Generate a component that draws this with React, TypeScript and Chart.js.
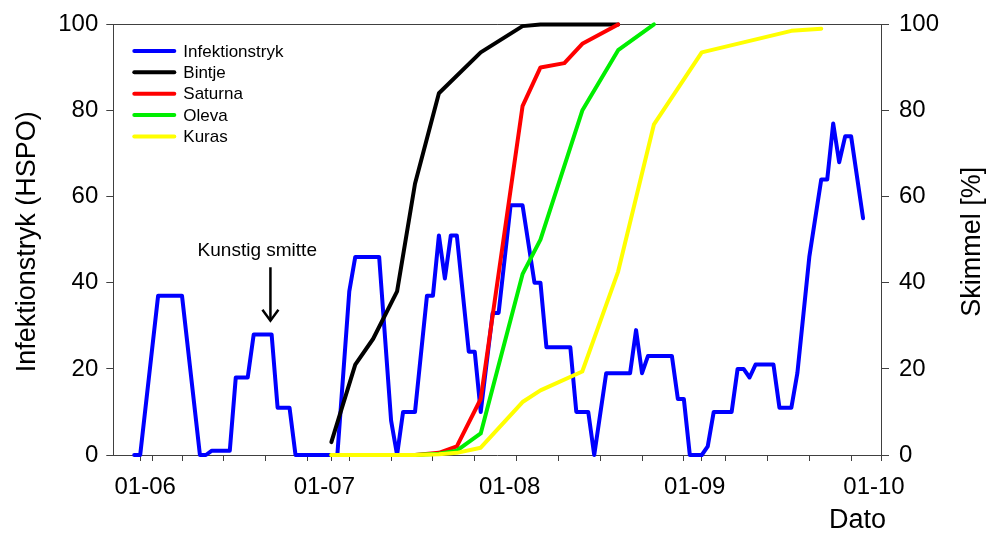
import { useEffect, useRef } from 'react';
import { Chart, registerables } from 'chart.js';

Chart.register(...registerables);

const FONT = '"Liberation Sans", Arial, Helvetica, sans-serif';

// Dates are MM-DD within one season; converted to days after 1 June.
const infDates = [
  '05-29', '05-30', '06-02', '06-06', '06-09', '06-10', '06-11', '06-14', '06-15', '06-17',
  '06-18', '06-21', '06-22', '06-24', '06-25', '07-02', '07-04', '07-05', '07-09', '07-11',
  '07-12', '07-13', '07-15', '07-17', '07-18', '07-19', '07-20', '07-21', '07-22', '07-24',
  '07-25', '07-26', '07-28', '07-29', '07-31', '08-02', '08-04', '08-05', '08-06', '08-10',
  '08-11', '08-13', '08-14', '08-16', '08-20', '08-21', '08-22', '08-23', '08-27', '08-28',
  '08-29', '08-30', '09-01', '09-02', '09-03', '09-06', '09-07', '09-08', '09-09', '09-10',
  '09-13', '09-14', '09-16', '09-17', '09-19', '09-21', '09-22', '09-23', '09-24', '09-25',
  '09-26', '09-28',
];
const infValues = [
  0, 0, 37, 37, 0, 0, 1, 1, 18, 18,
  28, 28, 11, 11, 0, 0, 38, 46, 46, 8,
  0, 10, 10, 37, 37, 51, 41, 51, 51, 24,
  24, 10, 33, 33, 58, 58, 40, 40, 25, 25,
  10, 10, 0, 19, 19, 29, 19, 23, 23, 13,
  13, 0, 0, 2, 10, 10, 20, 20, 18, 21,
  21, 11, 11, 19, 46, 64, 64, 77, 68, 74,
  74, 55,
];

const bintjeDates = ['07-01', '07-05', '07-08', '07-12', '07-15', '07-19', '07-26', '08-02', '08-05', '08-18'];
const bintjeValues = [3, 21, 27, 38, 63, 84, 93.5, 99.6, 100, 100];

const saturnaDates = ['07-01', '07-05', '07-08', '07-12', '07-15', '07-19', '07-22', '07-26', '08-02', '08-05', '08-09', '08-12', '08-18'];
const saturnaValues = [0, 0, 0, 0, 0, 0.5, 2, 13, 81, 90, 91, 95.5, 100];

const olevaDates = ['07-01', '07-05', '07-08', '07-12', '07-15', '07-19', '07-22', '07-26', '08-02', '08-05', '08-12', '08-18', '08-24'];
const olevaValues = [0, 0, 0, 0, 0, 0.3, 1, 5, 42, 50, 80, 94, 100];

const kurasDates = ['07-01', '07-05', '07-08', '07-12', '07-15', '07-19', '07-22', '07-26', '08-02', '08-05', '08-12', '08-18', '08-24', '09-01', '09-16', '09-21'];
const kurasValues = [0, 0, 0, 0, 0, 0.2, 0.5, 1.7, 12.3, 15, 19.4, 42.6, 76.8, 93.5, 98.5, 99];

const monthTickDates = ['06-01', '07-01', '08-01', '09-01', '10-01'];
const monthTickLabels = ['01-06', '01-07', '01-08', '01-09', '01-10'];
const weekTickStart = '05-30';

const seriesNames = ['Infektionstryk', 'Bintje', 'Saturna', 'Oleva', 'Kuras'];
const seriesColors = ['#0000ff', '#000000', '#ff0000', '#00ee00', '#ffff00'];

const xTitle = 'Dato';
const yTitle = 'Infektionstryk (HSPO)';
const y2Title = 'Skimmel [%]';
const noteText = 'Kunstig smitte';
const noteTextAt = { date: '06-18', frac: 0.6, value: 47.5 };
const noteArrowAt = { date: '06-20', frac: 0.8, from: 43.6, to: 31.2 };

const dayOf = (md: string) => {
  const [m, d] = md.split('-').map(Number);
  return (Date.UTC(2000, m - 1, d) - Date.UTC(2000, 5, 1)) / 86400000;
};
const toPoints = (dates: string[], values: number[]) => dates.map((d, i) => ({ x: dayOf(d), y: values[i] }));

const monthDays = monthTickDates.map(dayOf);
const weekDays: number[] = [];
for (let d = dayOf(weekTickStart); d < dayOf('10-01'); d += 7) weekDays.push(d);
const tickDays = Array.from(new Set([...weekDays, ...monthDays])).sort((a, b) => a - b);

const AXIS = '#404040';

const overlay = {
  id: 'overlay',
  beforeDatasetsDraw(chart: any) {
    const { ctx, chartArea: a } = chart;
    ctx.save();
    ctx.strokeStyle = AXIS;
    ctx.lineWidth = 1;
    const y = Math.round(a.top) + 0.5;
    ctx.beginPath();
    ctx.moveTo(a.left, y);
    ctx.lineTo(a.right, y);
    ctx.stroke();
    ctx.restore();
  },
  afterDraw(chart: any) {
    const { ctx, chartArea: a, scales } = chart;
    const x = scales.x;
    const y = scales.y;
    ctx.save();
    ctx.fillStyle = '#000';

    // axis titles
    ctx.font = `27px ${FONT}`;
    ctx.textBaseline = 'alphabetic';
    ctx.textAlign = 'center';
    const cy = (a.top + a.bottom) / 2 + 2;
    ctx.save();
    ctx.translate(35, cy);
    ctx.rotate(-Math.PI / 2);
    ctx.fillText(yTitle, 0, 0);
    ctx.restore();
    ctx.save();
    ctx.translate(980, cy);
    ctx.rotate(-Math.PI / 2);
    ctx.fillText(y2Title, 0, 0);
    ctx.restore();
    ctx.textAlign = 'right';
    ctx.fillText(xTitle, a.right + 5, 528);

    // legend
    ctx.font = `17px ${FONT}`;
    ctx.textAlign = 'left';
    ctx.textBaseline = 'middle';
    seriesNames.forEach((name, i) => {
      const ly = a.top + 26.5 + i * 21.4;
      ctx.strokeStyle = seriesColors[i];
      ctx.lineWidth = 4;
      ctx.lineCap = 'round';
      ctx.beginPath();
      ctx.moveTo(a.left + 21, ly);
      ctx.lineTo(a.left + 61, ly);
      ctx.stroke();
      ctx.fillStyle = '#000';
      ctx.fillText(name, a.left + 70, ly + 1);
    });

    // annotation
    ctx.font = `19px ${FONT}`;
    ctx.textAlign = 'center';
    ctx.textBaseline = 'middle';
    ctx.fillText(noteText, x.getPixelForValue(dayOf(noteTextAt.date) + noteTextAt.frac), y.getPixelForValue(noteTextAt.value));
    const ax = x.getPixelForValue(dayOf(noteArrowAt.date) + noteArrowAt.frac);
    const y0 = y.getPixelForValue(noteArrowAt.from);
    const y1 = y.getPixelForValue(noteArrowAt.to);
    ctx.strokeStyle = '#000';
    ctx.lineWidth = 2.5;
    ctx.lineCap = 'butt';
    ctx.beginPath();
    ctx.moveTo(ax, y0);
    ctx.lineTo(ax, y1);
    ctx.stroke();
    ctx.beginPath();
    ctx.moveTo(ax - 8, y1 - 11);
    ctx.lineTo(ax, y1);
    ctx.lineTo(ax + 8, y1 - 11);
    ctx.stroke();
    ctx.restore();
  },
};

export default function App() {
  const ref = useRef<HTMLCanvasElement>(null);
  useEffect(() => {
    const all = [
      toPoints(infDates, infValues),
      toPoints(bintjeDates, bintjeValues),
      toPoints(saturnaDates, saturnaValues),
      toPoints(olevaDates, olevaValues),
      toPoints(kurasDates, kurasValues),
    ];
    const chart = new Chart(ref.current!, {
      type: 'line',
      data: {
        datasets: all.map((pts, i) => ({
          label: seriesNames[i],
          data: pts,
          borderColor: seriesColors[i],
          backgroundColor: seriesColors[i],
          borderWidth: 4,
          pointRadius: 0,
          tension: 0,
          fill: false,
          clip: false as any,
          borderCapStyle: 'round' as const,
          borderJoinStyle: 'round' as const,
          yAxisID: i === 0 ? 'y' : 'y2',
          order: 5 - i,
        })),
      },
      options: {
        responsive: false,
        animation: false,
        events: [],
        layout: { padding: { top: 21, left: 0, right: 0, bottom: 0 } },
        plugins: { legend: { display: false }, tooltip: { enabled: false } },
        scales: {
          x: {
            type: 'linear',
            min: -6.5,
            max: 122,
            afterFit: (s: any) => { s.height = 78; },
            afterBuildTicks: (s: any) => { s.ticks = tickDays.map((v) => ({ value: v })); },
            grid: { drawOnChartArea: false, drawTicks: true, tickLength: 6, color: AXIS, tickColor: AXIS },
            border: { display: true, color: AXIS, width: 1 },
            ticks: {
              autoSkip: false,
              maxRotation: 0,
              minRotation: 0,
              labelOffset: -7,
              padding: 12,
              color: '#000',
              font: { family: FONT, size: 24 },
              callback: (v: any) => {
                const k = monthDays.indexOf(Number(v));
                return k >= 0 ? monthTickLabels[k] : '';
              },
            },
          },
          y: {
            type: 'linear',
            position: 'left',
            min: 0,
            max: 100,
            afterFit: (s: any) => { s.width = 113.3; },
            grid: { drawOnChartArea: false, drawTicks: true, tickLength: 7, color: AXIS, tickColor: AXIS },
            border: { display: true, color: AXIS, width: 1 },
            ticks: { stepSize: 20, padding: 8, color: '#000', font: { family: FONT, size: 24 } },
          },
          y2: {
            type: 'linear',
            position: 'right',
            min: 0,
            max: 100,
            afterFit: (s: any) => { s.width = 114; },
            grid: { drawOnChartArea: false, drawTicks: true, tickLength: 8, color: AXIS, tickColor: AXIS },
            border: { display: true, color: AXIS, width: 1 },
            ticks: { stepSize: 20, padding: 10, color: '#000', font: { family: FONT, size: 24 } },
          },
        },
      },
      plugins: [overlay],
    } as any);
    return () => chart.destroy();
  }, []);
  return (
    <div style={{ position: 'absolute', left: 0, top: 0, width: 995, height: 533, background: '#fff' }}>
      <canvas ref={ref} width={995} height={533} style={{ display: 'block', width: 995, height: 533 }} />
    </div>
  );
}
